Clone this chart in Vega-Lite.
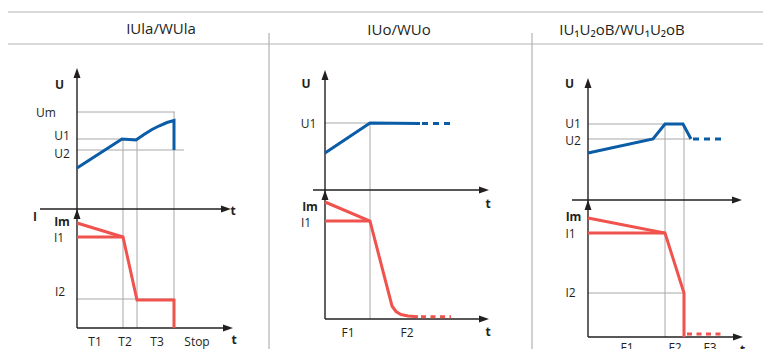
{
  "$schema": "https://vega.github.io/schema/vega-lite/v6.json",
  "width": 763,
  "height": 349,
  "padding": 0,
  "autosize": {"type": "none"},
  "background": "white",
  "config": {"view": {"stroke": null}},
  "datasets": {
    "segments": [
      {"kind": "frame", "x": 8, "y": 12, "x2": 763, "y2": 12},
      {"kind": "frame", "x": 8, "y": 44, "x2": 763, "y2": 44},
      {"kind": "frame", "x": 269, "y": 33, "x2": 269, "y2": 349},
      {"kind": "frame", "x": 532, "y": 33, "x2": 532, "y2": 349},
      {"kind": "grid", "x": 77, "y": 112, "x2": 175, "y2": 112},
      {"kind": "grid", "x": 77, "y": 139, "x2": 137, "y2": 139},
      {"kind": "grid", "x": 77, "y": 150, "x2": 184, "y2": 150},
      {"kind": "grid", "x": 123, "y": 139, "x2": 123, "y2": 328},
      {"kind": "grid", "x": 137, "y": 139, "x2": 137, "y2": 328},
      {"kind": "grid", "x": 174, "y": 112, "x2": 174, "y2": 328},
      {"kind": "grid", "x": 77, "y": 299, "x2": 174, "y2": 299},
      {"kind": "grid", "x": 325, "y": 123, "x2": 370, "y2": 123},
      {"kind": "grid", "x": 370, "y": 123, "x2": 370, "y2": 319},
      {"kind": "grid", "x": 588, "y": 124, "x2": 684, "y2": 124},
      {"kind": "grid", "x": 588, "y": 139, "x2": 690, "y2": 139},
      {"kind": "grid", "x": 665, "y": 124, "x2": 665, "y2": 337},
      {"kind": "grid", "x": 684, "y": 124, "x2": 684, "y2": 337},
      {"kind": "grid", "x": 588, "y": 293, "x2": 684, "y2": 293},
      {"kind": "axis", "x": 77, "y": 71, "x2": 77, "y2": 328},
      {"kind": "axis", "x": 40, "y": 209, "x2": 228, "y2": 209},
      {"kind": "axis", "x": 77, "y": 328, "x2": 230, "y2": 328},
      {"kind": "axis", "x": 325, "y": 73, "x2": 325, "y2": 319},
      {"kind": "axis", "x": 313, "y": 190, "x2": 486, "y2": 190},
      {"kind": "axis", "x": 325, "y": 319, "x2": 486, "y2": 319},
      {"kind": "axis", "x": 588, "y": 81, "x2": 588, "y2": 337},
      {"kind": "axis", "x": 572, "y": 200, "x2": 739, "y2": 200},
      {"kind": "axis", "x": 588, "y": 337, "x2": 740, "y2": 337},
      {"kind": "Ihold", "x": 77, "y": 237, "x2": 123, "y2": 237},
      {"kind": "Ihold", "x": 325, "y": 221, "x2": 370, "y2": 221},
      {"kind": "Ihold", "x": 588, "y": 233, "x2": 665, "y2": 233},
      {"kind": "Udash", "x": 422, "y": 123.5, "x2": 451, "y2": 123.5},
      {"kind": "Udash", "x": 693, "y": 139, "x2": 721, "y2": 139},
      {"kind": "Idash", "x": 421, "y": 316.7, "x2": 451, "y2": 316.7},
      {"kind": "Idash", "x": 687, "y": 334, "x2": 722, "y2": 334}
    ],
    "curves": [
      {"series": "U-IUla", "kind": "U", "o": 1, "x": 77, "y": 168},
      {"series": "U-IUla", "kind": "U", "o": 2, "x": 122, "y": 139},
      {"series": "U-IUla", "kind": "U", "o": 3, "x": 136, "y": 140},
      {"series": "U-IUla", "kind": "U", "o": 4, "x": 144, "y": 134.5},
      {"series": "U-IUla", "kind": "U", "o": 5, "x": 152, "y": 129.5},
      {"series": "U-IUla", "kind": "U", "o": 6, "x": 160, "y": 125.5},
      {"series": "U-IUla", "kind": "U", "o": 7, "x": 167, "y": 122.5},
      {"series": "U-IUla", "kind": "U", "o": 8, "x": 174, "y": 120.5},
      {"series": "U-IUla", "kind": "U", "o": 9, "x": 174, "y": 150},
      {"series": "I-IUla", "kind": "I", "o": 1, "x": 77, "y": 223},
      {"series": "I-IUla", "kind": "I", "o": 2, "x": 123, "y": 237},
      {"series": "I-IUla", "kind": "I", "o": 3, "x": 137, "y": 300},
      {"series": "I-IUla", "kind": "I", "o": 4, "x": 174, "y": 300},
      {"series": "I-IUla", "kind": "I", "o": 5, "x": 174, "y": 328},
      {"series": "U-IUo", "kind": "U", "o": 1, "x": 325, "y": 153},
      {"series": "U-IUo", "kind": "U", "o": 2, "x": 370, "y": 123},
      {"series": "U-IUo", "kind": "U", "o": 3, "x": 420, "y": 123.5},
      {"series": "I-IUo", "kind": "I", "o": 1, "x": 325, "y": 202},
      {"series": "I-IUo", "kind": "I", "o": 2, "x": 370, "y": 221},
      {"series": "I-IUo", "kind": "I", "o": 3, "x": 392, "y": 306},
      {"series": "I-IUo", "kind": "I", "o": 4, "x": 396, "y": 311.5},
      {"series": "I-IUo", "kind": "I", "o": 5, "x": 401, "y": 314.5},
      {"series": "I-IUo", "kind": "I", "o": 6, "x": 408, "y": 316},
      {"series": "I-IUo", "kind": "I", "o": 7, "x": 418, "y": 316.7},
      {"series": "U-IUUoB", "kind": "U", "o": 1, "x": 588, "y": 153},
      {"series": "U-IUUoB", "kind": "U", "o": 2, "x": 653, "y": 139},
      {"series": "U-IUUoB", "kind": "U", "o": 3, "x": 665, "y": 124},
      {"series": "U-IUUoB", "kind": "U", "o": 4, "x": 683, "y": 124},
      {"series": "U-IUUoB", "kind": "U", "o": 5, "x": 691, "y": 139},
      {"series": "I-IUUoB", "kind": "I", "o": 1, "x": 588, "y": 218},
      {"series": "I-IUUoB", "kind": "I", "o": 2, "x": 665, "y": 233},
      {"series": "I-IUUoB", "kind": "I", "o": 3, "x": 684, "y": 293},
      {"series": "I-IUUoB", "kind": "I", "o": 4, "x": 684, "y": 337}
    ],
    "arrows": [
      {"dir": "up", "x": 77, "y": 68},
      {"dir": "up", "x": 77, "y": 209},
      {"dir": "right", "x": 231, "y": 209},
      {"dir": "right", "x": 233, "y": 328},
      {"dir": "up", "x": 325, "y": 70},
      {"dir": "up", "x": 325, "y": 190},
      {"dir": "right", "x": 489, "y": 190},
      {"dir": "right", "x": 489, "y": 319},
      {"dir": "up", "x": 588, "y": 78},
      {"dir": "up", "x": 588, "y": 200},
      {"dir": "right", "x": 742, "y": 200},
      {"dir": "right", "x": 743, "y": 337}
    ],
    "labels": [
      {"role": "tick", "text": "Um", "x": 46, "y": 112.5},
      {"role": "tick", "text": "U1", "x": 62, "y": 136},
      {"role": "tick", "text": "U2", "x": 62, "y": 154},
      {"role": "tick", "text": "I1", "x": 59, "y": 237.5},
      {"role": "tick", "text": "I2", "x": 60, "y": 292},
      {"role": "tick", "text": "T1", "x": 95, "y": 341.5},
      {"role": "tick", "text": "T2", "x": 125, "y": 341.5},
      {"role": "tick", "text": "T3", "x": 157, "y": 341.5},
      {"role": "tick", "text": "Stop", "x": 197, "y": 341.5},
      {"role": "tick", "text": "U1", "x": 308.5, "y": 124},
      {"role": "tick", "text": "I1", "x": 306, "y": 222.5},
      {"role": "tick", "text": "F1", "x": 348, "y": 333},
      {"role": "tick", "text": "F2", "x": 407, "y": 333},
      {"role": "tick", "text": "U1", "x": 573, "y": 124},
      {"role": "tick", "text": "U2", "x": 573, "y": 140.5},
      {"role": "tick", "text": "I1", "x": 570.5, "y": 234},
      {"role": "tick", "text": "I2", "x": 570.5, "y": 292.5},
      {"role": "tick", "text": "F1", "x": 627, "y": 348},
      {"role": "tick", "text": "F2", "x": 675, "y": 348},
      {"role": "tick", "text": "F3", "x": 710, "y": 348},
      {"role": "name", "text": "U", "x": 59.5, "y": 85},
      {"role": "name", "text": "I", "x": 35, "y": 217},
      {"role": "name", "text": "Im", "x": 62, "y": 221.5},
      {"role": "name", "text": "t", "x": 233, "y": 211},
      {"role": "name", "text": "t", "x": 234, "y": 340},
      {"role": "name", "text": "U", "x": 306, "y": 84},
      {"role": "name", "text": "Im", "x": 310, "y": 206.5},
      {"role": "name", "text": "t", "x": 488, "y": 204},
      {"role": "name", "text": "t", "x": 488, "y": 332},
      {"role": "name", "text": "U", "x": 569.5, "y": 84},
      {"role": "name", "text": "Im", "x": 573.5, "y": 217},
      {"role": "name", "text": "t", "x": 742.5, "y": 350},
      {"role": "title", "text": "IUla/WUla", "x": 161, "y": 34},
      {"role": "title", "text": "IUo/WUo", "x": 399, "y": 34.5},
      {"role": "title", "text": "IU₁U₂oB/WU₁U₂oB", "x": 622, "y": 34.5}
    ]
  },
  "encoding": {
    "x": {"field": "x", "type": "quantitative", "scale": {"domain": [0, 763], "nice": false, "zero": false}, "axis": null},
    "y": {"field": "y", "type": "quantitative", "scale": {"domain": [0, 349], "nice": false, "zero": false, "reverse": true}, "axis": null}
  },
  "layer": [
    {
      "data": {"name": "segments"},
      "transform": [{"filter": "datum.kind == 'frame'"}],
      "mark": {"type": "rule", "color": "#b3b3b3", "strokeWidth": 1.2},
      "encoding": {"x2": {"field": "x2"}, "y2": {"field": "y2"}}
    },
    {
      "data": {"name": "segments"},
      "transform": [{"filter": "datum.kind == 'grid'"}],
      "mark": {"type": "rule", "color": "#a8a8a8", "strokeWidth": 1},
      "encoding": {"x2": {"field": "x2"}, "y2": {"field": "y2"}}
    },
    {
      "data": {"name": "segments"},
      "transform": [{"filter": "datum.kind == 'axis'"}],
      "mark": {"type": "rule", "color": "#231f20", "strokeWidth": 1.4},
      "encoding": {"x2": {"field": "x2"}, "y2": {"field": "y2"}}
    },
    {
      "data": {"name": "segments"},
      "transform": [{"filter": "datum.kind == 'Ihold'"}],
      "mark": {"type": "rule", "color": "#f0524d", "strokeWidth": 3},
      "encoding": {"x2": {"field": "x2"}, "y2": {"field": "y2"}}
    },
    {
      "data": {"name": "segments"},
      "transform": [{"filter": "datum.kind == 'Udash'"}],
      "mark": {"type": "rule", "color": "#0b5ca6", "strokeWidth": 3, "strokeDash": [6, 5]},
      "encoding": {"x2": {"field": "x2"}, "y2": {"field": "y2"}}
    },
    {
      "data": {"name": "segments"},
      "transform": [{"filter": "datum.kind == 'Idash'"}],
      "mark": {"type": "rule", "color": "#f0524d", "strokeWidth": 3, "strokeDash": [5, 4.5]},
      "encoding": {"x2": {"field": "x2"}, "y2": {"field": "y2"}}
    },
    {
      "data": {"name": "curves"},
      "transform": [{"filter": "datum.kind == 'U'"}],
      "mark": {"type": "line", "color": "#0b5ca6", "strokeWidth": 3, "strokeJoin": "miter"},
      "encoding": {"detail": {"field": "series"}, "order": {"field": "o", "type": "quantitative"}}
    },
    {
      "data": {"name": "curves"},
      "transform": [{"filter": "datum.kind == 'I'"}],
      "mark": {"type": "line", "color": "#f0524d", "strokeWidth": 3, "strokeJoin": "miter"},
      "encoding": {"detail": {"field": "series"}, "order": {"field": "o", "type": "quantitative"}}
    },
    {
      "data": {"name": "arrows"},
      "mark": {"type": "point", "filled": true, "size": 100, "color": "#231f20", "opacity": 1, "strokeWidth": 0},
      "encoding": {
        "shape": {"field": "dir", "type": "nominal", "scale": {"domain": ["up", "right"], "range": ["M0,0L0.7,2L-0.7,2Z", "M0,0L-2,0.7L-2,-0.7Z"]}, "legend": null}
      }
    },
    {
      "data": {"name": "labels"},
      "transform": [{"filter": "datum.role == 'tick'"}],
      "mark": {"type": "text", "font": "Open Sans", "fontSize": 12, "color": "#231f20", "align": "center", "baseline": "middle"},
      "encoding": {"text": {"field": "text"}}
    },
    {
      "data": {"name": "labels"},
      "transform": [{"filter": "datum.role == 'name'"}],
      "mark": {"type": "text", "font": "Open Sans", "fontSize": 12, "fontWeight": "bold", "color": "#231f20", "align": "center", "baseline": "middle"},
      "encoding": {"text": {"field": "text"}}
    },
    {
      "data": {"name": "labels"},
      "transform": [{"filter": "datum.role == 'title'"}],
      "mark": {"type": "text", "font": "Open Sans", "fontSize": 15, "color": "#231f20", "align": "center", "baseline": "alphabetic"},
      "encoding": {"text": {"field": "text"}}
    }
  ]
}
